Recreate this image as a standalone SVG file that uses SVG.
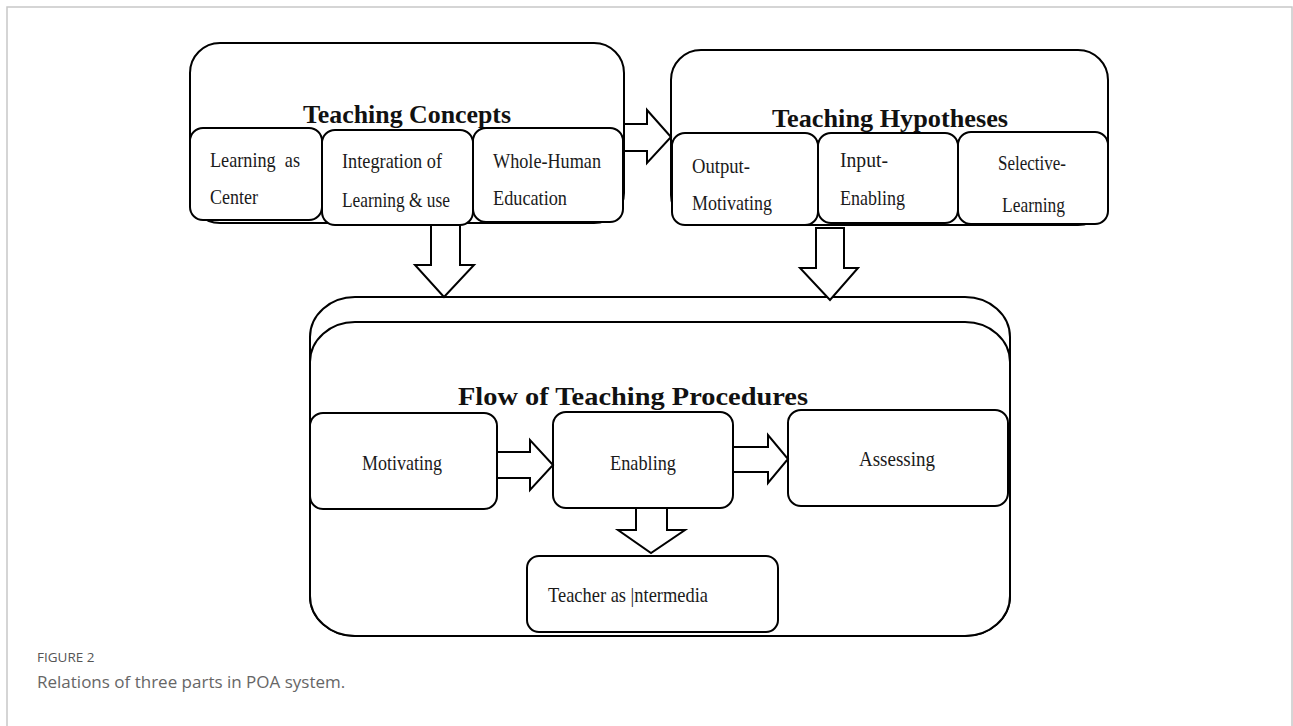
<svg xmlns="http://www.w3.org/2000/svg" width="1293" height="726" viewBox="0 0 1293 726">
<style>
.box{fill:#fff;stroke:#000;stroke-width:2}
.arr{fill:#fff;stroke:#000;stroke-width:2;stroke-linejoin:miter}
.t{font-family:"Liberation Serif",serif;font-size:21px;fill:#1a1a1a}
.h{font-family:"Liberation Serif",serif;font-size:26px;font-weight:bold;fill:#111}
.cap1{font-family:"Open Sans","Noto Sans",sans-serif;font-size:13.5px;fill:#555}
.cap2{font-family:"Open Sans","Noto Sans",sans-serif;font-size:17px;fill:#666}
</style>
<rect x="0" y="0" width="1293" height="726" fill="#fff"/>
<rect x="7" y="7" width="1285" height="740" fill="none" stroke="#c8c8c8" stroke-width="1.5"/>

<g id="teaching-concepts">
  <rect class="box" x="190" y="43" width="434" height="180" rx="30" ry="30"/>
  <text class="h" x="407" y="123" text-anchor="middle" textLength="208" lengthAdjust="spacingAndGlyphs">Teaching Concepts</text>
  <g id="tc-learning-center">
    <rect class="box" x="190" y="128" width="132" height="92" rx="13"/>
    <text class="t" x="210" y="167" textLength="90" lengthAdjust="spacingAndGlyphs" xml:space="preserve">Learning  as</text>
    <text class="t" x="210" y="204" textLength="48" lengthAdjust="spacingAndGlyphs">Center</text>
  </g>
  <g id="tc-whole-human">
    <rect class="box" x="473" y="128" width="150" height="94" rx="13"/>
    <text class="t" x="493" y="168" textLength="108" lengthAdjust="spacingAndGlyphs">Whole-Human</text>
    <text class="t" x="493" y="205" textLength="74" lengthAdjust="spacingAndGlyphs">Education</text>
  </g>
  <g id="tc-integration">
    <rect class="box" x="322" y="130" width="151" height="95" rx="13"/>
    <text class="t" x="342" y="168" textLength="100" lengthAdjust="spacingAndGlyphs">Integration of</text>
    <text class="t" x="342" y="207" textLength="108" lengthAdjust="spacingAndGlyphs">Learning &amp; use</text>
  </g>
</g>

<g id="teaching-hypotheses">
  <rect class="box" x="671" y="50" width="437" height="175" rx="30" ry="30"/>
  <text class="h" x="890" y="127" text-anchor="middle" textLength="236" lengthAdjust="spacingAndGlyphs">Teaching Hypotheses</text>
  <g id="th-output">
    <rect class="box" x="672" y="133" width="146" height="92" rx="13"/>
    <text class="t" x="692" y="173" textLength="58" lengthAdjust="spacingAndGlyphs">Output-</text>
    <text class="t" x="692" y="210" textLength="80" lengthAdjust="spacingAndGlyphs">Motivating</text>
  </g>
  <g id="th-selective">
    <rect class="box" x="958" y="132" width="150" height="92" rx="13"/>
    <text class="t" x="998" y="170" textLength="68" lengthAdjust="spacingAndGlyphs">Selective-</text>
    <text class="t" x="1002" y="212" textLength="63" lengthAdjust="spacingAndGlyphs">Learning</text>
  </g>
  <g id="th-input">
    <rect class="box" x="818" y="133" width="140" height="90" rx="13"/>
    <text class="t" x="840" y="167" textLength="48" lengthAdjust="spacingAndGlyphs">Input-</text>
    <text class="t" x="840" y="205" textLength="65" lengthAdjust="spacingAndGlyphs">Enabling</text>
  </g>
</g>

<g id="flow">
  <rect class="box" x="310" y="297" width="700" height="339" rx="45" ry="40"/>
  <rect class="box" x="310" y="322" width="700" height="314" rx="45" ry="40"/>
  <text class="h" x="633" y="405" text-anchor="middle" textLength="350" lengthAdjust="spacingAndGlyphs">Flow of Teaching Procedures</text>
  <g id="fl-motivating">
    <rect class="box" x="310" y="413" width="187" height="96" rx="13"/>
    <text class="t" x="402" y="470" text-anchor="middle" textLength="80" lengthAdjust="spacingAndGlyphs">Motivating</text>
  </g>
  <g id="fl-enabling">
    <rect class="box" x="553" y="412" width="180" height="96" rx="13"/>
    <text class="t" x="643" y="470" text-anchor="middle" textLength="66" lengthAdjust="spacingAndGlyphs">Enabling</text>
  </g>
  <g id="fl-assessing">
    <rect class="box" x="788" y="410" width="220" height="96" rx="13"/>
    <text class="t" x="897" y="466" text-anchor="middle" textLength="76" lengthAdjust="spacingAndGlyphs">Assessing</text>
  </g>
  <g id="fl-teacher">
    <rect class="box" x="527" y="556" width="251" height="76" rx="12"/>
    <text class="t" x="548" y="602" textLength="160" lengthAdjust="spacingAndGlyphs">Teacher as |ntermedia</text>
  </g>
</g>

<g id="connectors">
  <path class="arr" d="M624,124 H647 V110 L671,137 L647,163 V151 H624 Z"/>
  <path class="arr" d="M431,225 V265 H415 L444,297 L474,265 H460 V225 Z"/>
  <path class="arr" d="M816,228 V268 H800 L830,300 L858,268 H844 V228 Z"/>
  <path class="arr" d="M497,452 H530 V440 L553,465 L530,490 V478 H497 Z"/>
  <path class="arr" d="M733,447 H768 V435 L788,459 L768,483 V472 H733 Z"/>
  <path class="arr" d="M636,508 V530 H618 L651,553 L685,530 H667 V508 Z"/>
</g>

<g id="caption">
  <text class="cap1" x="37" y="662">FIGURE 2</text>
  <text class="cap2" x="37" y="688">Relations of three parts in POA system.</text>
</g>
</svg>
